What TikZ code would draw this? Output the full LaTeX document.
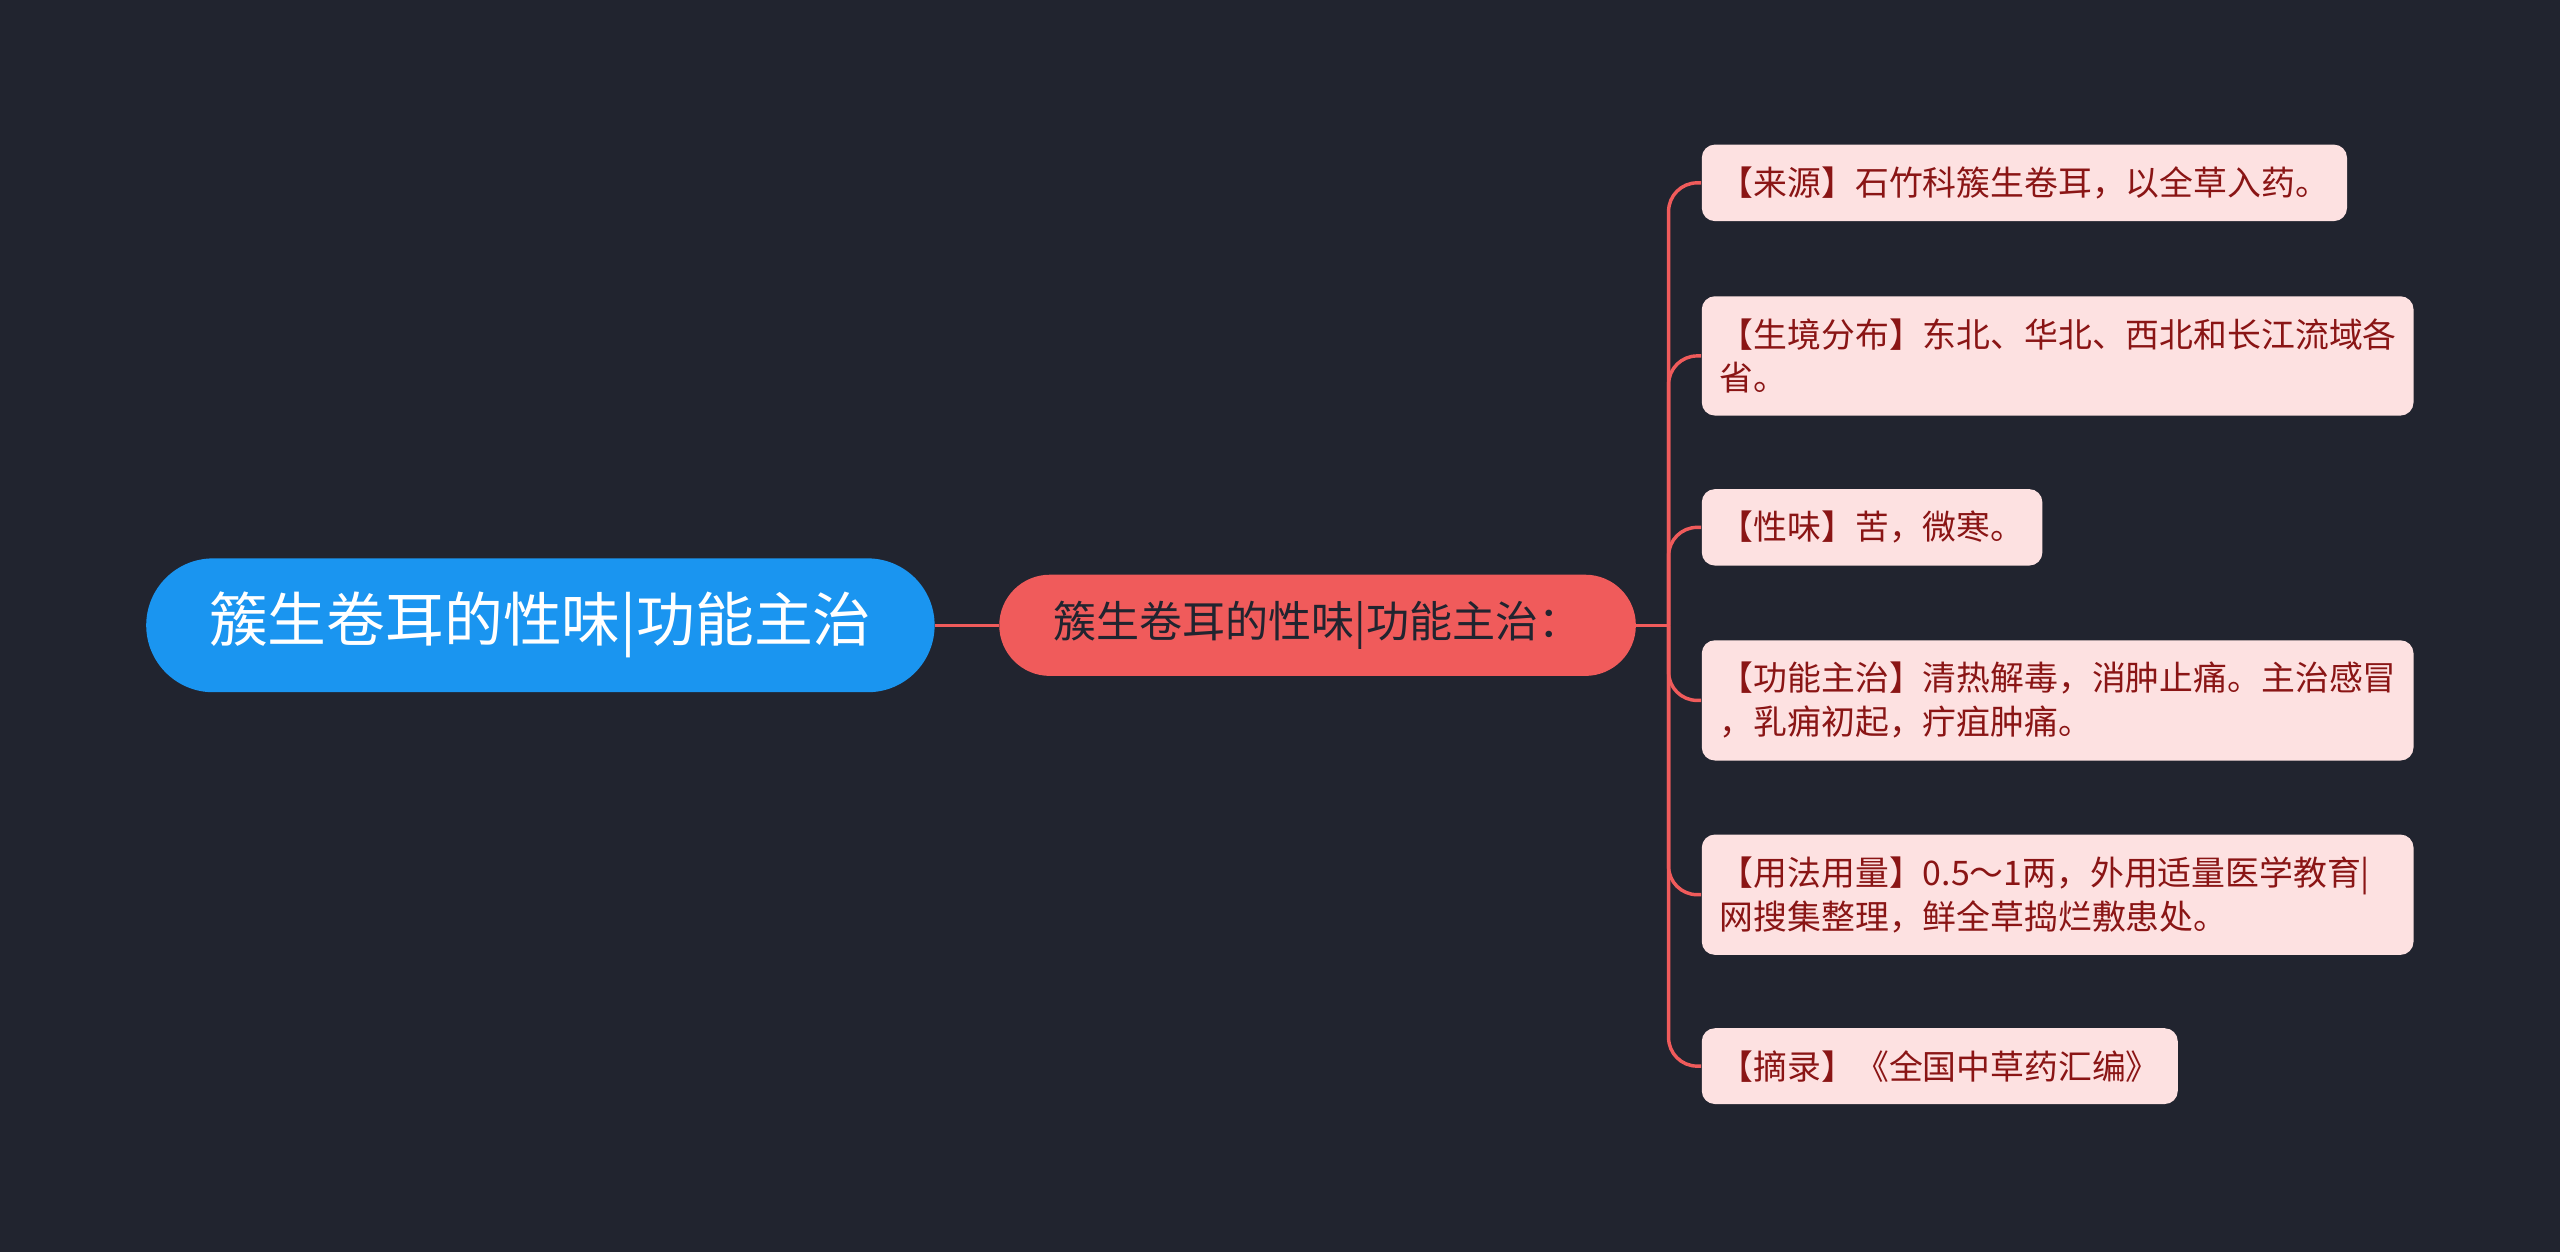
\documentclass[tikz,border=0pt]{standalone}
\usepackage{fontspec}
\setmainfont{Noto Sans CJK SC}
\usetikzlibrary{positioning}
\definecolor{bgdark}{HTML}{21242F}
\definecolor{rootblue}{HTML}{1A95F0}
\definecolor{midred}{HTML}{F05B5B}
\definecolor{leafpink}{HTML}{FDE1E1}
\definecolor{leaftext}{HTML}{8A1515}
\tikzset{
  rootbox/.style={rounded corners=0.82cm, fill=rootblue, text=white, minimum width=9.66cm, minimum height=1.64cm, font=\fontsize{20.5}{24}\selectfont},
  midbox/.style={rounded corners=0.62cm, fill=midred, text=bgdark, minimum width=7.8cm, minimum height=1.24cm, font=\fontsize{15}{18}\selectfont},
  leafbox/.style={rounded corners=0.16cm, fill=leafpink, text=leaftext, anchor=west, inner xsep=0.22cm, inner ysep=0.27cm, font=\fontsize{11.8}{15.3}\selectfont, align=left},
  wide/.style={text width=8.28cm},
  link/.style={draw=midred, line width=1.2pt}
}
\begin{document}
\begin{tikzpicture}[x=0.02cm, y=-0.02cm]
\fill[bgdark] (0,0) rectangle (1568,767);
% main nodes
\node[rootbox] (root) at (331,383) {簇生卷耳的性味|功能主治};
\node[midbox] (mid) at (807,383) {簇生卷耳的性味|功能主治：};
\coordinate (hub) at (1022,383);
% leaves
\node[leafbox] (l1) at (1042,112) {【来源】石竹科簇生卷耳，以全草入药。};
\node[leafbox, wide] (l2) at (1042,218) {【生境分布】东北、华北、西北和长江流域各\\省。};
\node[leafbox] (l3) at (1042,323) {【性味】苦，微寒。};
\node[leafbox, wide] (l4) at (1042,429) {【功能主治】清热解毒，消肿止痛。主治感冒\\，乳痈初起，疔疽肿痛。};
\node[leafbox, wide] (l5) at (1042,548) {【用法用量】0.5～1两，外用适量医学教育|\\网搜集整理，鲜全草捣烂敷患处。};
\node[leafbox] (l6) at (1042,653) {【摘录】《全国中草药汇编》};
% connectors
\draw[link] (root.east) -- (mid.west);
\draw[link] (mid.east) -- (hub);
\foreach \leaf in {l1,l2,l3,l4,l5,l6}
  \draw[link, rounded corners=0.35cm] (hub) |- (\leaf.west);
\end{tikzpicture}
\end{document}
